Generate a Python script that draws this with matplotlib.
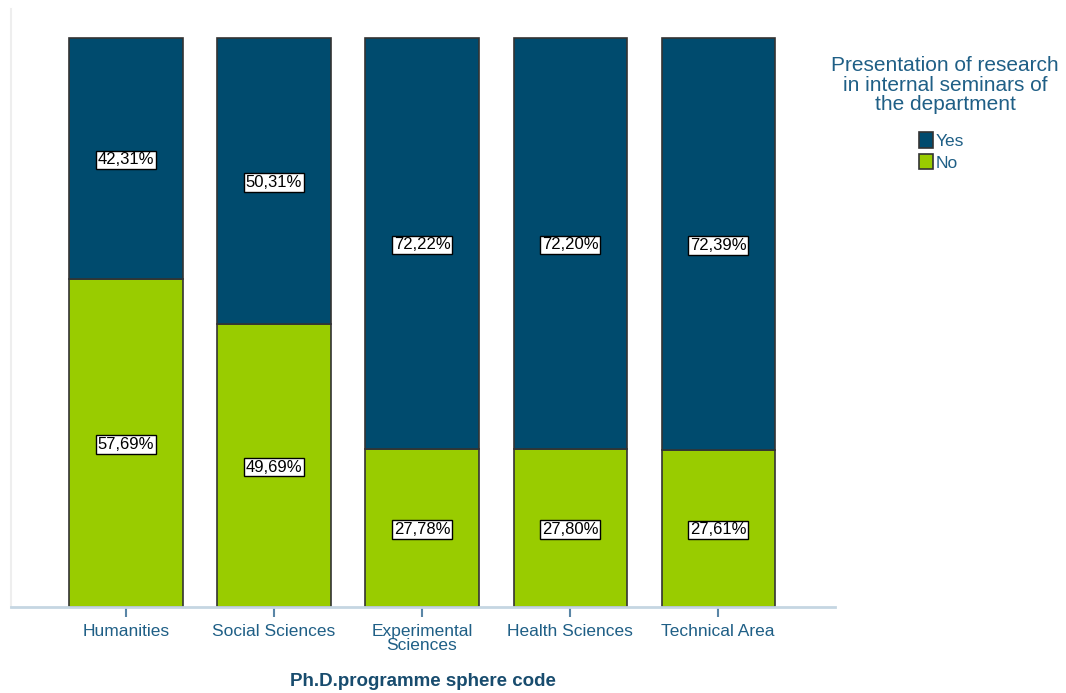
import matplotlib.pyplot as plt
import numpy as np

plt.rcParams['font.family'] = ['Liberation Sans', 'DejaVu Sans']

spheres = ['Humanities', 'Social Sciences', 'Experimental\nSciences', 'Health Sciences', 'Technical Area']
no_pct = [57.69, 49.69, 27.78, 27.80, 27.61]
yes_pct = [42.31, 50.31, 72.22, 72.20, 72.39]

yes_color = '#004b6e'
no_color = '#99cc00'
text_blue = '#1f5f86'

fig = plt.figure(figsize=(10.66, 6.93), dpi=100)
ax = fig.add_axes([0.0103, 0.1241, 0.773, 0.8629])

x = np.arange(len(spheres))
no_vals = np.array(no_pct) / 100
yes_vals = np.array(yes_pct) / 100

bars_no = ax.bar(x, no_vals, width=0.764, color=no_color, edgecolor='#333333', linewidth=1.2, label='No')
bars_yes = ax.bar(x, yes_vals, width=0.764, bottom=no_vals, color=yes_color, edgecolor='#333333', linewidth=1.2, label='Yes')

box = dict(boxstyle='square,pad=0.1', facecolor='white', edgecolor='black', linewidth=1)
for i in range(len(spheres)):
    ax.text(x[i], no_vals[i] / 2, ('%.2f%%' % no_pct[i]).replace('.', ','),
            ha='center', va='center_baseline', fontsize=12, color='black', bbox=box)
    ax.text(x[i], no_vals[i] + yes_vals[i] / 2, ('%.2f%%' % yes_pct[i]).replace('.', ','),
            ha='center', va='center_baseline', fontsize=12, color='black', bbox=box)

ax.set_xlim(-0.777, 4.79)
ax.set_ylim(0, 1.051)
ax.set_yticks([])
ax.set_xticks(x)
ax.set_xticklabels(spheres, fontsize=12.5, color=text_blue, linespacing=0.95)
ax.tick_params(axis='x', length=7, width=1.5, color='#5a86a6', pad=5)

for side in ['top', 'right']:
    ax.spines[side].set_visible(False)
ax.spines['bottom'].set_color('#c5d6e2')
ax.spines['bottom'].set_linewidth(2)
ax.spines['left'].set_color('#eeeeee')
ax.spines['left'].set_linewidth(1.5)

ax.set_xlabel('Ph.D.programme sphere code', fontsize=13.5, fontweight='bold', color='#184c6e', labelpad=14)

fig.text(0.8865, 0.877, 'Presentation of research\nin internal seminars of\nthe department',
         ha='center', va='center', fontsize=15, color=text_blue, linespacing=1.05)
leg = fig.legend([bars_yes, bars_no], ['Yes', 'No'], loc='upper left', bbox_to_anchor=(0.854, 0.822),
                 frameon=False, fontsize=12.5, handlelength=0.8, handleheight=1.0, handletextpad=0.15,
                 labelspacing=0.3, borderpad=0)
for t in leg.get_texts():
    t.set_color(text_blue)

fig.savefig('out.png', dpi=100)
